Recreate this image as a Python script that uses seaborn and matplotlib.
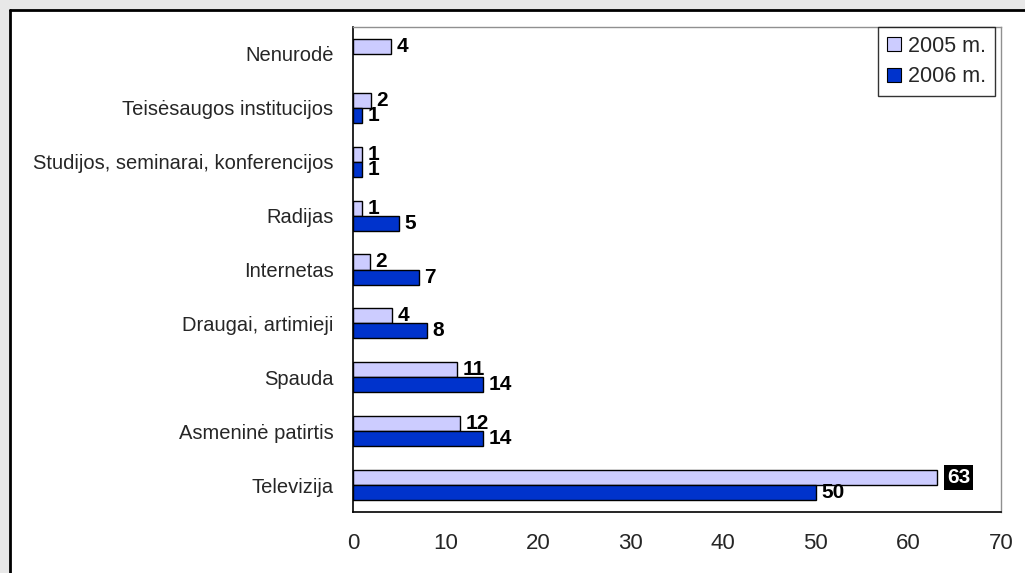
import numpy as np
import pandas as pd
import seaborn as sns
import matplotlib
matplotlib.use("Agg")
import matplotlib.pyplot as plt
from matplotlib.patches import Rectangle

categories = ["Nenurodė", "Teisėsaugos institucijos",
              "Studijos, seminarai, konferencijos", "Radijas", "Internetas",
              "Draugai, artimieji", "Spauda", "Asmeninė patirtis", "Televizija"]
v2005 = [4.1, 1.9, 1.0, 1.0, 1.8, 4.2, 11.2, 11.6, 63.1]
v2006 = [np.nan, 1.0, 1.0, 5.0, 7.1, 8.0, 14.0, 14.0, 50.0]
series = ["2005 m.", "2006 m."]
colors = ["#CCCCFF", "#0033CC"]
xticks = [0, 10, 20, 30, 40, 50, 60, 70]

df = pd.DataFrame({
    "cat": categories * 2,
    "val": v2005 + v2006,
    "ser": [series[0]] * len(categories) + [series[1]] * len(categories),
})

sns.set_style("white")
plt.rcParams["font.family"] = ["Liberation Sans", "DejaVu Sans"]

fig = plt.figure(figsize=(10.25, 5.73), dpi=100)
fig.patch.set_facecolor("white")
# outer background strips and frame
fig.patches.append(Rectangle((0, 1 - 10 / 573), 1, 10 / 573, transform=fig.transFigure,
                             facecolor="#E8E8E8", edgecolor="none", zorder=0))
fig.patches.append(Rectangle((0, 0), 10 / 1025, 1, transform=fig.transFigure,
                             facecolor="#E8E8E8", edgecolor="none", zorder=0))
fig.lines.append(plt.Line2D([10 / 1025, 1], [1 - 10 / 573, 1 - 10 / 573],
                            transform=fig.transFigure, color="black", lw=2))
fig.lines.append(plt.Line2D([10 / 1025, 10 / 1025], [0, 1 - 10 / 573],
                            transform=fig.transFigure, color="black", lw=2))

ax = fig.add_axes([353 / 1025, 1 - 512 / 573, (1001 - 353) / 1025, (512 - 27) / 573])
sns.barplot(data=df, y="cat", x="val", hue="ser", hue_order=series,
            order=categories, palette=colors, orient="h", width=0.56,
            edgecolor="black", linewidth=1, saturation=1, ax=ax, legend=True)

ax.set_xlim(0, 70)
ax.set_ylim(len(categories) - 0.5, -0.5)
ax.set_xticks(xticks)
ax.set_xticklabels([str(t) for t in xticks], fontsize=16)
ax.set_yticks(range(len(categories)))
ax.set_yticklabels(categories, fontsize=14.5)
ax.set_yticks(np.arange(-0.5, len(categories) + 0.5, 1), minor=True)
ax.tick_params(axis="y", which="major", length=0, pad=14)
ax.tick_params(axis="y", which="minor", length=6, width=1, color="black", direction="out")
ax.tick_params(axis="x", which="major", length=6, width=1, color="black", direction="out", pad=9)
ax.set_xlabel("")
ax.set_ylabel("")
for s in ["left", "bottom"]:
    ax.spines[s].set_color("black")
    ax.spines[s].set_linewidth(1.2)
for s in ["top", "right"]:
    ax.spines[s].set_color("#909090")
    ax.spines[s].set_linewidth(1)
    ax.spines[s].set_visible(True)

# value labels
for cont, vals in zip(ax.containers, [v2005, v2006]):
    for bar in cont:
        yc = bar.get_y() + bar.get_height() / 2
        idx = int(round(yc))
        v = vals[idx]
        if v is None or np.isnan(v):
            continue
        x = bar.get_width()
        if v > 60:
            ax.annotate(f"{v:.0f}", (x, yc), xytext=(7, 0), textcoords="offset points",
                        ha="left", va="center", fontsize=15, fontweight="bold", color="white",
                        bbox=dict(boxstyle="square,pad=0.15", facecolor="black", edgecolor="none"))
        else:
            ax.annotate(f"{v:.0f}", (x, yc), xytext=(4, 0), textcoords="offset points",
                        ha="left", va="center", fontsize=15, fontweight="bold", color="black")

leg = ax.legend(loc="upper right", bbox_to_anchor=(0.991, 1.0), frameon=True, fancybox=False,
                edgecolor="black", fontsize=15.5, handlelength=0.65, handleheight=0.65,
                handletextpad=0.35, borderaxespad=0, borderpad=0.4, labelspacing=0.45)
leg.get_frame().set_linewidth(1)
for h in leg.legend_handles:
    h.set_edgecolor("black")
    h.set_linewidth(0.8)

fig.savefig("out.png", dpi=100)
